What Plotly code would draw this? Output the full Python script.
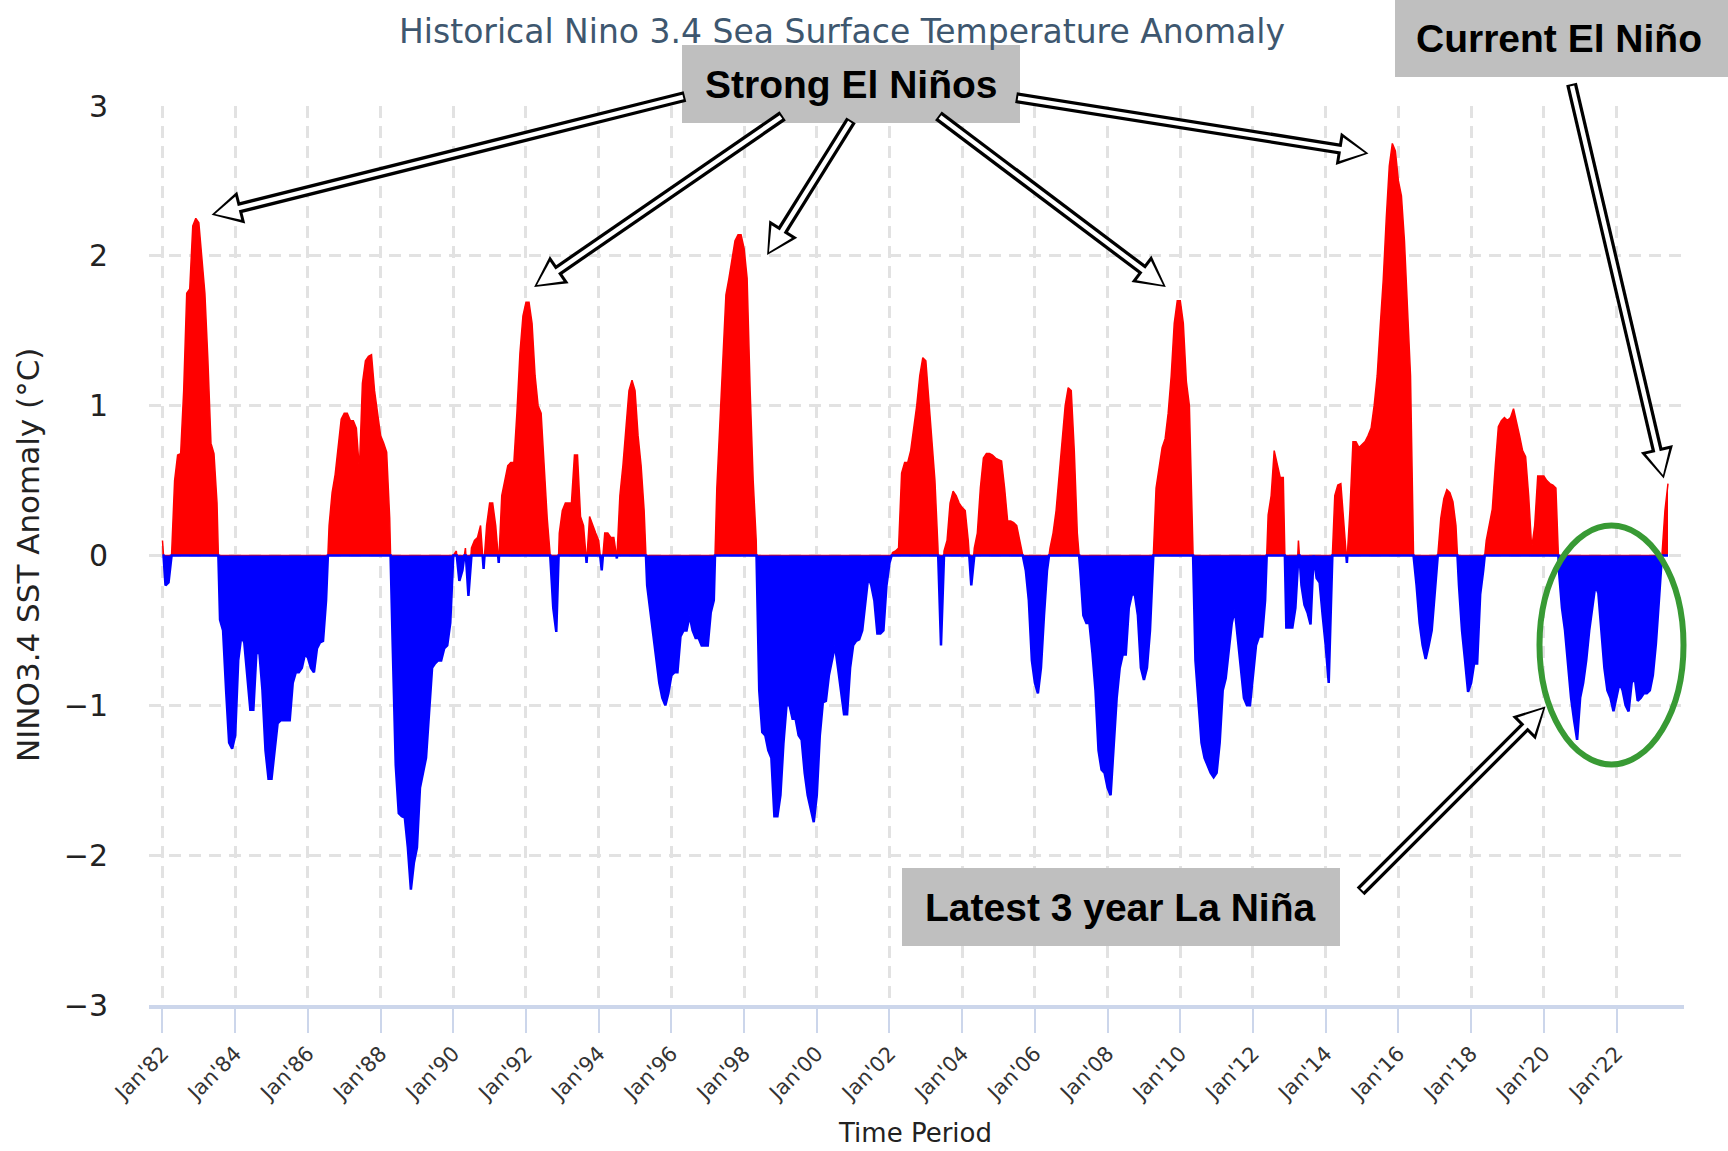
import plotly.graph_objects as go

# ---------------- data (monthly Nino 3.4 SST anomaly) ----------------
start_year = 1982

anom_1980s = [
    0.10, -0.20, -0.18, 0.00, 0.50, 0.67, 0.68, 1.10, 1.75, 1.78, 2.20, 2.25,      # 1982
    2.22, 2.00, 1.75, 1.30, 0.75, 0.68, 0.35, -0.43, -0.50, -0.90, -1.25, -1.29,   # 1983
    -1.20, -0.70, -0.54, -0.58, -0.80, -1.03, -1.03, -0.65, -0.65, -0.90, -1.30, -1.49,  # 1984
    -1.49, -1.30, -1.12, -1.10, -1.10, -1.10, -1.10, -0.85, -0.78, -0.78, -0.75, -0.66,  # 1985
    -0.68, -0.75, -0.78, -0.62, -0.58, -0.57, -0.30, 0.20, 0.42, 0.54, 0.75, 0.91,  # 1986
    0.95, 0.95, 0.90, 0.90, 0.85, 0.57, 1.15, 1.30, 1.33, 1.34, 1.10, 0.94,         # 1987
    0.80, 0.75, 0.69, 0.25, -0.60, -1.40, -1.72, -1.74, -1.75, -1.95, -2.23, -2.05,  # 1988
    -1.95, -1.55, -1.45, -1.35, -1.05, -0.75, -0.72, -0.70, -0.70, -0.62, -0.60, -0.45,  # 1989
]

anom_1990s = [
    0.00, 0.03, -0.17, -0.10, 0.05, -0.27, 0.05, 0.10, 0.12, 0.20, -0.09, 0.20,    # 1990
    0.35, 0.35, 0.20, -0.05, 0.40, 0.50, 0.60, 0.62, 0.62, 0.95, 1.35, 1.60,        # 1991
    1.69, 1.69, 1.55, 1.20, 1.00, 0.95, 0.60, 0.25, 0.00, -0.35, -0.51, 0.15,       # 1992
    0.30, 0.35, 0.35, 0.35, 0.67, 0.67, 0.26, 0.20, -0.05, 0.26, 0.20, 0.15,        # 1993
    0.10, -0.10, 0.15, 0.15, 0.12, 0.12, -0.02, 0.40, 0.60, 0.85, 1.10, 1.17,       # 1994
    1.10, 0.80, 0.60, 0.30, -0.20, -0.37, -0.55, -0.70, -0.85, -0.95, -1.00, -0.92,  # 1995
    -0.80, -0.78, -0.78, -0.54, -0.50, -0.50, -0.40, -0.50, -0.55, -0.55, -0.60, -0.60,  # 1996
    -0.60, -0.38, -0.30, 0.45, 0.90, 1.40, 1.74, 1.85, 1.98, 2.10, 2.14, 2.14,      # 1997
    2.05, 1.85, 1.10, 0.50, 0.10, -0.90, -1.18, -1.20, -1.30, -1.35, -1.74, -1.74,  # 1998
    -1.60, -1.25, -1.00, -1.00, -1.09, -1.09, -1.20, -1.23, -1.45, -1.60, -1.70, -1.78,  # 1999
]

anom_2000s = [
    -1.60, -1.20, -0.98, -0.97, -0.80, -0.70, -0.60, -0.75, -0.90, -1.06, -1.06, -0.75,  # 2000
    -0.60, -0.57, -0.56, -0.50, -0.32, -0.14, -0.20, -0.30, -0.52, -0.52, -0.50, -0.20,  # 2001
    -0.05, 0.02, 0.03, 0.05, 0.55, 0.62, 0.62, 0.70, 0.85, 1.00, 1.20, 1.32,        # 2002
    1.30, 1.05, 0.75, 0.50, 0.05, -0.60, 0.03, 0.10, 0.35, 0.43, 0.40, 0.35,        # 2003
    0.32, 0.30, 0.10, -0.20, 0.05, 0.15, 0.45, 0.65, 0.68, 0.68, 0.67, 0.65,        # 2004
    0.64, 0.63, 0.45, 0.23, 0.23, 0.22, 0.20, 0.10, 0.00, -0.10, -0.30, -0.70,      # 2005
    -0.85, -0.92, -0.75, -0.40, -0.10, 0.05, 0.15, 0.30, 0.55, 0.80, 1.00, 1.12,    # 2006
    1.10, 0.70, 0.15, -0.10, -0.40, -0.45, -0.45, -0.65, -0.90, -1.30, -1.43, -1.45,  # 2007
    -1.55, -1.60, -1.30, -0.95, -0.75, -0.66, -0.66, -0.35, -0.26, -0.26, -0.40, -0.75,  # 2008
    -0.83, -0.75, -0.50, -0.05, 0.45, 0.60, 0.72, 0.78, 0.95, 1.20, 1.55, 1.70,     # 2009
]

anom_2010s = [
    1.70, 1.55, 1.16, 1.00, 0.20, -0.70, -1.00, -1.25, -1.35, -1.40, -1.45, -1.48,  # 2010
    -1.45, -1.25, -0.90, -0.82, -0.65, -0.45, -0.36, -0.55, -0.75, -0.95, -1.00, -1.00,  # 2011
    -0.80, -0.60, -0.54, -0.54, -0.30, 0.27, 0.40, 0.70, 0.60, 0.52, 0.52, -0.48,  # 2012
    -0.48, -0.48, -0.35, 0.10, -0.20, -0.33, -0.38, -0.46, 0.00, -0.15, -0.18, -0.40,  # 2013
    -0.60, -0.85, -0.10, 0.40, 0.47, 0.48, 0.20, -0.05, 0.30, 0.76, 0.76, 0.72,     # 2014
    0.74, 0.76, 0.80, 0.85, 1.00, 1.20, 1.53, 1.84, 2.25, 2.60, 2.75, 2.70,         # 2015
    2.50, 2.40, 2.10, 1.60, 1.20, 0.00, -0.20, -0.45, -0.60, -0.69, -0.60, -0.50,   # 2016
    -0.25, 0.00, 0.25, 0.38, 0.44, 0.42, 0.36, 0.20, -0.20, -0.50, -0.70, -0.91,    # 2017
    -0.85, -0.72, -0.72, -0.26, -0.10, 0.10, 0.20, 0.31, 0.60, 0.86, 0.90, 0.92,    # 2018
    0.90, 0.92, 0.98, 0.90, 0.80, 0.70, 0.66, 0.40, 0.05, 0.20, 0.53, 0.53,         # 2019
]

anom_2020s = [
    0.53, 0.50, 0.48, 0.47, 0.45, -0.10, -0.35, -0.50, -0.75, -0.95, -1.10, -1.23,  # 2020
    -0.95, -0.85, -0.70, -0.50, -0.35, -0.20, -0.25, -0.50, -0.75, -0.90, -0.95, -1.04,  # 2021
    -0.95, -0.85, -0.90, -1.00, -1.04, -0.85, -0.81, -0.97, -0.95, -0.92, -0.92, -0.90,  # 2022
    -0.80, -0.59, -0.30, 0.00, 0.30, 0.48,                                           # 2023
]

tick_years = list(range(1982, 2023, 2))
tick_labels = ["Jan'82", "Jan'84", "Jan'86", "Jan'88", "Jan'90", "Jan'92", "Jan'94",
               "Jan'96", "Jan'98", "Jan'00", "Jan'02", "Jan'04", "Jan'06", "Jan'08",
               "Jan'10", "Jan'12", "Jan'14", "Jan'16", "Jan'18", "Jan'20", "Jan'22"]
y_ticks = [-3, -2, -1, 0, 1, 2, 3]
y_tick_labels = ["\u22123", "\u22122", "\u22121", "0", "1", "2", "3"]

title_text = "Historical Nino 3.4 Sea Surface Temperature Anomaly"
y_title = "NINO3.4 SST Anomaly (°C)"
x_title = "Time Period"
label_strong = "Strong El Niños"
label_current = "Current El Niño"
label_lanina = "Latest 3 year La Niña"

# ---------------- build series ----------------
values = anom_1980s + anom_1990s + anom_2000s + anom_2010s + anom_2020s
xs = [start_year + i / 12 for i in range(len(values))]

pos_x, pos_y, neg_x, neg_y = [], [], [], []
for i, v in enumerate(values):
    if i > 0:
        v0 = values[i - 1]
        if v0 * v < 0:
            xc = xs[i - 1] + (xs[i] - xs[i - 1]) * v0 / (v0 - v)
            pos_x.append(xc); pos_y.append(0)
            neg_x.append(xc); neg_y.append(0)
    pos_x.append(xs[i]); pos_y.append(max(v, 0))
    neg_x.append(xs[i]); neg_y.append(min(v, 0))

# ---------------- layout geometry (pixels) ----------------
W, H = 1728, 1151
L, R, T, B = 149, 1684, 106, 1005


def px(x):
    return (x - L) / (R - L)


def py(y):
    return (B - y) / (B - T)


fig = go.Figure()
fig.add_trace(go.Scatter(x=pos_x, y=pos_y, mode="lines", fill="tozeroy",
                         fillcolor="#ff0000", line=dict(color="#ff0000", width=1.5),
                         hoverinfo="skip", showlegend=False))
fig.add_trace(go.Scatter(x=neg_x, y=neg_y, mode="lines", fill="tozeroy",
                         fillcolor="#0000ff", line=dict(color="#0000ff", width=2.5),
                         hoverinfo="skip", showlegend=False))

grid_col = "#e2e2e2"
fig.update_xaxes(range=[1981.629, 2023.857], tickmode="array", tickvals=tick_years,
                 ticktext=tick_labels, tickangle=-45,
                 tickfont=dict(family="DejaVu Sans", size=21, color="#333333"),
                 showgrid=True, gridcolor=grid_col, gridwidth=2.5, griddash="12px,8px",
                 showline=True, linecolor="#ccd6eb", linewidth=4,
                 ticks="outside", ticklen=24, tickwidth=2, tickcolor="#ccd6eb",
                 zeroline=False, fixedrange=True)
fig.update_yaxes(range=[-3, 3], tickmode="array", tickvals=y_ticks, ticktext=y_tick_labels,
                 tickfont=dict(family="DejaVu Sans", size=30, color="#222222"),
                 showgrid=True, gridcolor=grid_col, gridwidth=2.5, griddash="12px,8px",
                 showline=False, ticks="", ticklabelstandoff=40, zeroline=False,
                 fixedrange=True)

shapes = []
annotations = []

# text boxes
box_fill = "#bfbfbf"
boxes = [
    ((682, 45, 1020, 123), label_strong, (851, 84)),
    ((1395, 0, 1728, 77), label_current, (1559, 39)),
    ((902, 868, 1340, 946), label_lanina, (1120, 907)),
]
for (x0, y0, x1, y1), _, _ in boxes:
    shapes.append(dict(type="rect", xref="paper", yref="paper",
                       x0=px(x0), x1=px(x1), y0=py(y1), y1=py(y0),
                       fillcolor=box_fill, line=dict(width=0), layer="above"))

# green ellipse
shapes.append(dict(type="circle", xref="paper", yref="paper",
                   x0=px(1611.5 - 72), x1=px(1611.5 + 72),
                   y0=py(645 + 119.5), y1=py(645 - 119.5),
                   line=dict(color="#389a34", width=6), layer="above"))

# arrows (tail -> head), pixels
arrows = [
    ((683, 97), (215, 214)),
    ((781, 117), (537, 285)),
    ((850, 122), (769, 252)),
    ((940, 117), (1163, 285)),
    ((1018, 98), (1365, 153)),
    ((1572, 86), (1663, 475)),
    ((1362, 890), (1543, 709)),
]


def path_from(points):
    return "M " + " L ".join(f"{px(a):.5f},{py(b):.5f}" for a, b in points) + " Z"


for (tx, ty), (hx, hy) in arrows:
    dx, dy = hx - tx, hy - ty
    ln = (dx * dx + dy * dy) ** 0.5
    ux, uy = dx / ln, dy / ln
    nx, ny = -uy, ux
    hl, hw = 24, 12
    bx, by = hx - ux * hl, hy - uy * hl
    # black outline shaft
    shapes.append(dict(type="line", xref="paper", yref="paper",
                       x0=px(tx - ux * 2), y0=py(ty - uy * 2), x1=px(bx + ux * 4), y1=py(by + uy * 4),
                       line=dict(color="#000000", width=11), layer="above"))
    # black outline head
    o = 4.5
    shapes.append(dict(type="path", xref="paper", yref="paper",
                       path=path_from([(hx + ux * 3.5, hy + uy * 3.5),
                                       (bx - ux * 3 + nx * (hw + o), by - uy * 3 + ny * (hw + o)),
                                       (bx - ux * 3 - nx * (hw + o), by - uy * 3 - ny * (hw + o))]),
                       fillcolor="#000000", line=dict(width=0), layer="above"))
    # white head
    shapes.append(dict(type="path", xref="paper", yref="paper",
                       path=path_from([(hx, hy), (bx + nx * hw, by + ny * hw),
                                       (bx - nx * hw, by - ny * hw)]),
                       fillcolor="#ffffff", line=dict(width=0), layer="above"))
    # white shaft
    shapes.append(dict(type="line", xref="paper", yref="paper",
                       x0=px(tx), y0=py(ty), x1=px(bx + ux * 6), y1=py(by + uy * 6),
                       line=dict(color="#ffffff", width=4.5), layer="above"))

box_font = dict(family="Liberation Sans", size=39, color="#000000", weight="bold")
for _, text, (cx, cy) in boxes:
    annotations.append(dict(text=text, xref="paper", yref="paper", x=px(cx), y=py(cy),
                            xanchor="center", yanchor="middle", showarrow=False,
                            font=box_font))

annotations.append(dict(text=y_title, xref="paper", yref="paper", x=px(28), y=py(555),
                        xanchor="center", yanchor="middle", showarrow=False, textangle=-90,
                        font=dict(family="DejaVu Sans", size=31, color="#222222")))
annotations.append(dict(text=x_title, xref="paper", yref="paper", x=px(915), y=py(1133),
                        xanchor="center", yanchor="middle", showarrow=False,
                        font=dict(family="DejaVu Sans", size=26, color="#222222")))

fig.update_layout(
    width=W, height=H, autosize=False,
    margin=dict(l=L, r=W - R, t=T, b=H - B, pad=0),
    paper_bgcolor="white", plot_bgcolor="white",
    title=dict(text=title_text, x=842 / W, y=1 - 31 / H, xref="container", yref="container",
               xanchor="center", yanchor="middle",
               font=dict(family="DejaVu Sans", size=33, color="#3E576F")),
    shapes=shapes, annotations=annotations, showlegend=False,
)

fig.write_html("out.html", config={"displayModeBar": False},
               post_script="document.body.style.margin='0px';")
